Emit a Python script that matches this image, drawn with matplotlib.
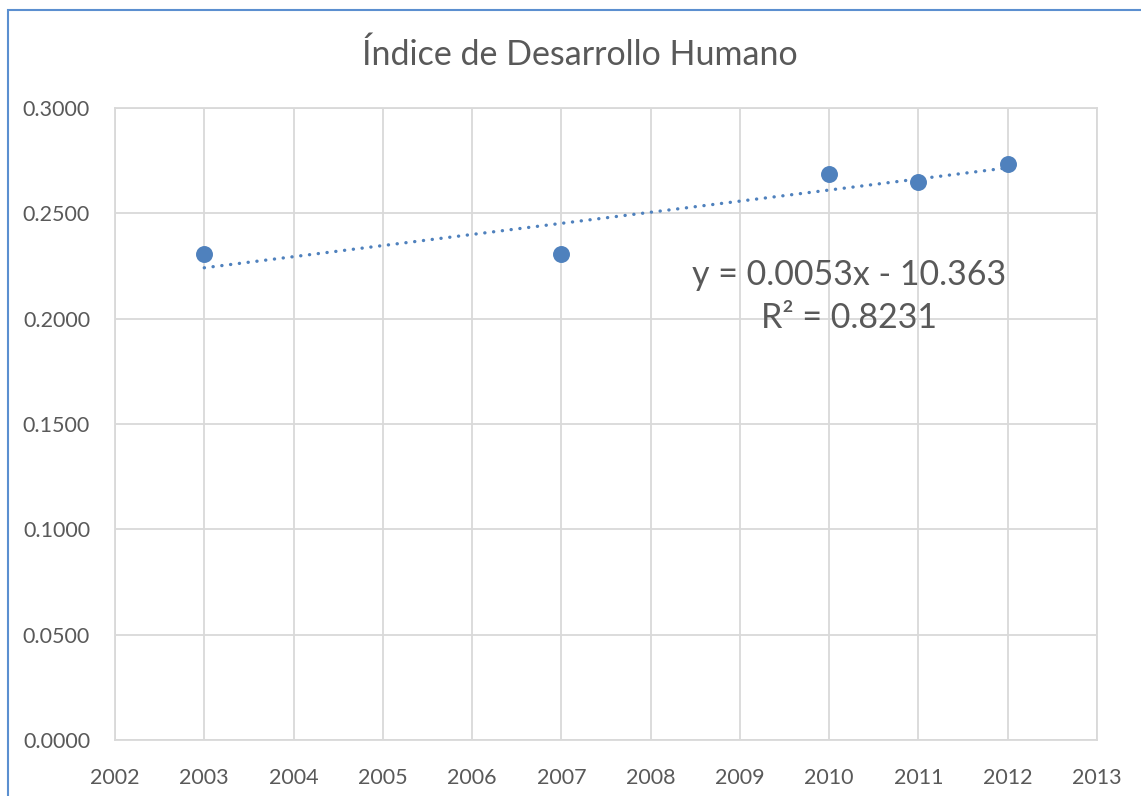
import numpy as np
import matplotlib.pyplot as plt
from matplotlib.patches import Rectangle

# Datos del indice
years = [2003, 2007, 2010, 2011, 2012]
idh = [0.2307, 0.2307, 0.2687, 0.2649, 0.2734]

x_ticks = list(range(2002, 2014))
y_ticks = [0.0, 0.05, 0.10, 0.15, 0.20, 0.25, 0.30]

title = "Índice de Desarrollo Humano"
eq_text = "y = 0.0053x - 10.363\nR² = 0.8231"

plt.rcParams['font.family'] = ['Lato', 'DejaVu Sans']
text_color = '#595959'
grid_color = '#D9D9D9'
point_color = '#4F81BD'

fig = plt.figure(figsize=(11.41, 7.96), dpi=100)
ax = fig.add_axes([115 / 1141, 1 - 740 / 796, (1097 - 115) / 1141, (740 - 108) / 796])

# borde del grafico
fig.patches.append(Rectangle((8 / 1141, -0.1), 1.2, 1 - 10 / 796 + 0.1,
                             transform=fig.transFigure, fill=False,
                             edgecolor='#5B8FD0', linewidth=1.5))

ax.scatter(years, idh, s=125, color=point_color, zorder=3)

# linea de tendencia
slope, intercept = np.polyfit(years, idh, 1)
tx = np.array([years[0], years[-1]])
ax.plot(tx, slope * tx + intercept, color=point_color, linewidth=2.4,
        linestyle=(0, (0.05, 2.6)), dash_capstyle='round', zorder=2)

ax.set_xlim(2002, 2013)
ax.set_ylim(0, 0.3)
ax.set_xticks(x_ticks)
ax.set_yticks(y_ticks)
ax.set_yticklabels([f"{v:.4f}" for v in y_ticks])
ax.grid(True, color=grid_color, linewidth=1.3)
ax.set_axisbelow(True)
ax.tick_params(length=0, labelsize=15.5, colors=text_color)
ax.tick_params(axis='y', pad=18)
ax.tick_params(axis='x', pad=20)
for s in ax.spines.values():
    s.set_color(grid_color)
    s.set_linewidth(1.3)

fig.text(580 / 1141, 1 - 55 / 796, title, ha='center', va='center',
         fontsize=24.5, color=text_color)
ax.text(2010.22, 0.2105, eq_text, ha='center', va='center', fontsize=24.5,
        color=text_color, linespacing=1.45)

fig.savefig('out.png', dpi=100)
